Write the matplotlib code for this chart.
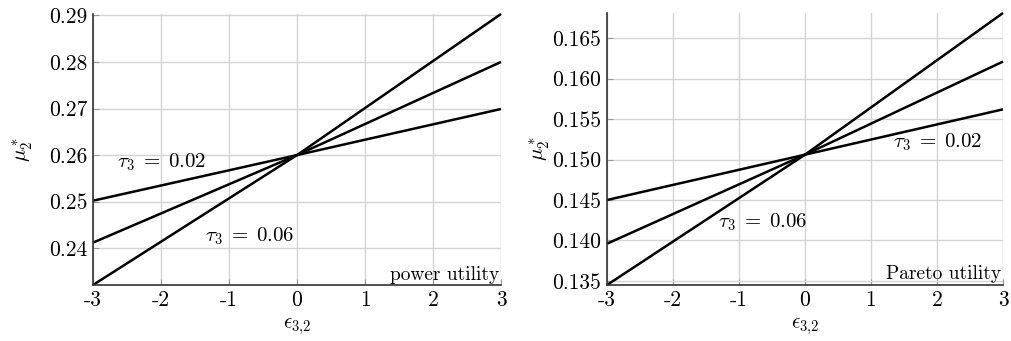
import matplotlib
matplotlib.use("Agg")
import matplotlib.pyplot as plt

plt.rcParams['font.family'] = ['cmr10', 'DejaVu Serif']
plt.rcParams['mathtext.fontset'] = 'cm'
plt.rcParams['axes.formatter.use_mathtext'] = True

x = [-3, 0, 3]
xticks = [-3, -2, -1, 0, 1, 2, 3]
xticklabels = ['-3', '-2', '-1', '0', '1', '2', '3']

power_t02 = [0.2502, 0.2600, 0.2699]
power_t04 = [0.2412, 0.2600, 0.2800]
power_t06 = [0.2321, 0.2600, 0.2903]
power_yticks = [0.24, 0.25, 0.26, 0.27, 0.28, 0.29]
power_yticklabels = ['0.24', '0.25', '0.26', '0.27', '0.28', '0.29']

pareto_t02 = [0.1450, 0.1506, 0.1562]
pareto_t04 = [0.1396, 0.1506, 0.1621]
pareto_t06 = [0.1345, 0.1506, 0.1681]
pareto_yticks = [0.135, 0.140, 0.145, 0.150, 0.155, 0.160, 0.165]
pareto_yticklabels = ['0.135', '0.140', '0.145', '0.150', '0.155', '0.160', '0.165']

fig = plt.figure(figsize=(10.12, 3.41), dpi=100)
W, H = 1012, 341
ax1 = fig.add_axes([93 / W, 1 - 285 / H, 408 / W, 271 / H])
ax2 = fig.add_axes([607 / W, 1 - 285 / H, 396 / W, 272 / H])

def style(ax, yticks, ylabels, ylim):
    ax.set_xlim(-3, 3)
    ax.set_ylim(*ylim)
    ax.set_xticks(xticks)
    ax.set_xticklabels(xticklabels)
    ax.set_yticks(yticks)
    ax.set_yticklabels(ylabels)
    ax.grid(True, color='#d4d4d4', linewidth=1.0)
    ax.set_axisbelow(True)
    for s in ['top', 'right']:
        ax.spines[s].set_visible(False)
    for s in ['left', 'bottom']:
        ax.spines[s].set_color('#333333')
        ax.spines[s].set_linewidth(1.2)
    ax.tick_params(direction='in', length=4, color='#999999', labelsize=15.5, pad=4)
    ax.set_xlabel(r'$\epsilon_{3{,}2}$', fontsize=15)
    ax.set_ylabel(r'$\mu_2^*$', fontsize=15)
    ax.xaxis.set_label_coords(0.5, -0.115)

for ys in (power_t02, power_t04, power_t06):
    ax1.plot(x, ys, color='black', linewidth=1.8, clip_on=False, solid_capstyle='butt')
style(ax1, power_yticks, power_yticklabels, (0.2321, 0.2903))
ax1.text(-2.65, 0.2585, r'$\tau_3\;=\;0.02$', fontsize=15, va='center', ha='left')
ax1.text(-1.35, 0.2426, r'$\tau_3\;=\;0.06$', fontsize=15, va='center', ha='left')
ax1.text(2.97, 0.2321 + 0.0003, 'power utility', fontsize=14, ha='right', va='bottom')

for ys in (pareto_t02, pareto_t04, pareto_t06):
    ax2.plot(x, ys, color='black', linewidth=1.8, clip_on=False, solid_capstyle='butt')
style(ax2, pareto_yticks, pareto_yticklabels, (0.1345, 0.1681))
ax2.text(1.33, 0.1521, r'$\tau_3\;=\;0.02$', fontsize=15, va='center', ha='left')
ax2.text(-1.32, 0.1423, r'$\tau_3\;=\;0.06$', fontsize=15, va='center', ha='left')
ax2.text(2.97, 0.1345 + 0.0002, 'Pareto utility', fontsize=14, ha='right', va='bottom')

ax1.yaxis.set_label_coords(-0.143, 0.5)
ax2.yaxis.set_label_coords(-0.14, 0.5)

fig.savefig('out.png', dpi=100)
